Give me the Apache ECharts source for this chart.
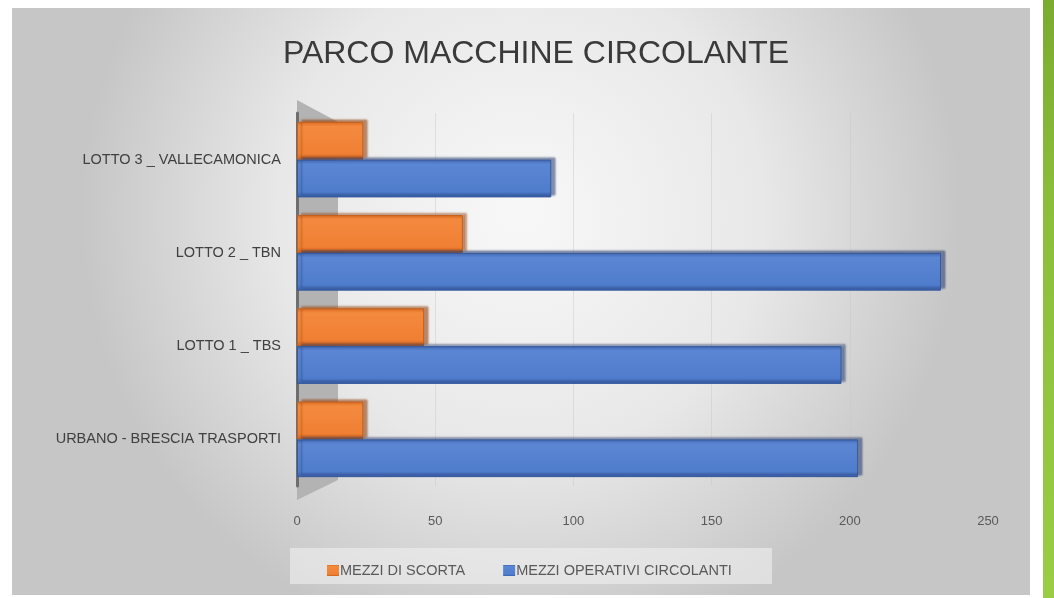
<!DOCTYPE html>
<html>
<head>
<meta charset="utf-8">
<script src="https://cdn.jsdelivr.net/npm/echarts@6/dist/echarts.min.js"></script>
<style>
html,body{margin:0;padding:0;background:#fff;}
#c{width:1054px;height:598px;}
</style>
</head>
<body>
<div id="c"></div>
<script>
const categories = ['URBANO - BRESCIA TRASPORTI', 'LOTTO 1 _ TBS', 'LOTTO 2 _ TBN', 'LOTTO 3 _ VALLECAMONICA'];
const mezziDiScorta = [24, 46, 60, 24];
const mezziOperativi = [203, 197, 233, 92];
const xTicks = [0, 50, 100, 150, 200, 250];
const seriesNames = ['MEZZI DI SCORTA', 'MEZZI OPERATIVI CIRCOLANTI'];

const chart = echarts.init(document.getElementById('c'), null, {renderer: 'canvas'});
const font = '"Liberation Sans", Arial, sans-serif';

const option = {
  animation: false,
  graphic: [
    {
      type: 'rect', z: -10, silent: true,
      shape: {x: 12, y: 8, width: 1018, height: 587},
      style: {
        fill: new echarts.graphic.RadialGradient(0.5, 0.35, 0.75, [
          {offset: 0, color: '#f8f8f8'},
          {offset: 0.55, color: '#e8e8e8'},
          {offset: 1, color: '#c6c6c6'}
        ])
      }
    },
    {
      type: 'rect', z: -10, silent: true,
      shape: {x: 1043, y: 0, width: 11, height: 598},
      style: {
        fill: new echarts.graphic.LinearGradient(0, 0, 0, 1, [
          {offset: 0, color: '#7bab2f'},
          {offset: 0.35, color: '#8bbf3a'},
          {offset: 1, color: '#9acd45'}
        ])
      }
    },
    {
      type: 'polygon', z: -5, silent: true,
      shape: {points: [[297, 100], [338, 122], [338, 480], [297, 500]]},
      style: {fill: '#b3b3b3'}
    },
    {
      type: 'rect', z: -5, silent: true,
      shape: {x: 290, y: 548, width: 482, height: 36},
      style: {fill: 'rgba(240,240,240,0.6)'}
    }
  ],
  title: {
    text: 'PARCO MACCHINE CIRCOLANTE',
    left: 531, top: 33, textAlign: 'center',
    textStyle: {fontFamily: font, fontSize: 32, fontWeight: 'normal', color: '#3a3a3a'}
  },
  legend: {
    data: seriesNames,
    left: 322, top: 558,
    itemWidth: 12, itemHeight: 11, itemGap: 38,
    icon: 'rect',
    itemStyle: {borderWidth: 0},
    textStyle: {fontFamily: font, fontSize: 14.5, color: '#595959', padding: [0, 0, 0, -4]}
  },
  grid: {left: 297, width: 691, top: 113, height: 373},
  xAxis: {
    type: 'value', min: 0, max: 250, interval: 50,
    axisLine: {show: false}, axisTick: {show: false},
    axisLabel: {margin: 29, fontFamily: font, fontSize: 13, color: '#595959',
      formatter: v => xTicks.includes(v) ? String(v) : ''},
    splitLine: {show: true, lineStyle: {color: 'rgba(200,200,200,0.45)', width: 1}}
  },
  yAxis: {
    type: 'category', data: categories,
    axisLine: {show: true, lineStyle: {color: '#6e6e6e', width: 3}},
    axisTick: {show: false},
    axisLabel: {margin: 16, fontFamily: font, fontSize: 14.5, color: '#404040'}
  },
  series: [
    {
      name: seriesNames[0], type: 'bar', data: mezziDiScorta,
      barCategoryGap: '19%', barGap: '0%',
      itemStyle: {
        color: new echarts.graphic.LinearGradient(0, 0, 0, 1, [
          {offset: 0, color: '#d96a22'},
          {offset: 0.12, color: '#f48a3e'},
          {offset: 0.85, color: '#ef7f33'},
          {offset: 1, color: '#c9621f'}
        ]),
        borderColor: '#c45f1c', borderWidth: 1,
        shadowColor: 'rgba(150,70,20,0.6)', shadowOffsetX: 4, shadowOffsetY: -2, shadowBlur: 2
      }
    },
    {
      name: seriesNames[1], type: 'bar', data: mezziOperativi,
      barCategoryGap: '19%', barGap: '0%',
      itemStyle: {
        color: new echarts.graphic.LinearGradient(0, 0, 0, 1, [
          {offset: 0, color: '#3f66b0'},
          {offset: 0.12, color: '#5b86d3'},
          {offset: 0.85, color: '#4f7ccc'},
          {offset: 1, color: '#3a5fa8'}
        ]),
        borderColor: '#33589e', borderWidth: 1,
        shadowColor: 'rgba(40,60,110,0.55)', shadowOffsetX: 4, shadowOffsetY: -2, shadowBlur: 2
      }
    }
  ]
};
chart.setOption(option);
</script>
</body>
</html>
